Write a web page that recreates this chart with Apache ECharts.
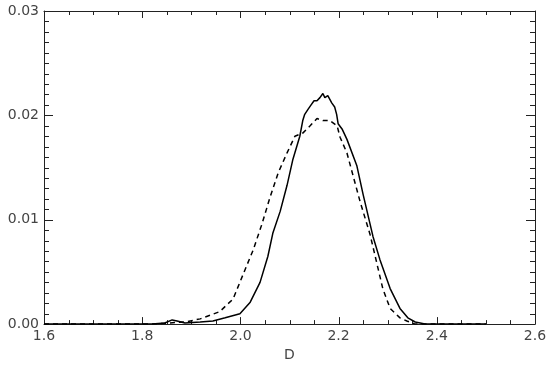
<!DOCTYPE html>
<html>
<head>
<meta charset="utf-8">
<script src="https://cdn.jsdelivr.net/npm/echarts@6/dist/echarts.min.js"></script>
<style>
    html, body { margin: 0; padding: 0; background: #ffffff; }
    #chart { width: 550px; height: 367px; }
</style>
</head>
<body>
<div id="chart"></div>
<script>
// solid curve: D values and probability
const solidD = [1.60, 1.82, 1.846, 1.861, 1.871, 1.887, 1.918, 1.944, 1.969, 1.999, 2.020, 2.040, 2.056, 2.066,
    2.081, 2.095, 2.107, 2.121, 2.127, 2.131, 2.138, 2.144, 2.150, 2.156, 2.162, 2.168, 2.172, 2.178, 2.186,
    2.192, 2.196, 2.199, 2.207, 2.217, 2.237, 2.250, 2.270, 2.284, 2.305, 2.325, 2.341, 2.356, 2.376, 2.50];
const solidP = [0, 0, 0.0001, 0.0004, 0.0003, 0.0001, 0.0002, 0.0003, 0.0006, 0.0010, 0.0021, 0.0040, 0.0065, 0.0087,
    0.0108, 0.0133, 0.0158, 0.0180, 0.0195, 0.0201, 0.0206, 0.0210, 0.0214, 0.0214, 0.0217, 0.0221, 0.0217, 0.0219, 0.0212,
    0.0208, 0.0201, 0.0192, 0.0187, 0.0177, 0.0152, 0.0124, 0.0084, 0.0062, 0.0034, 0.0015, 0.0006, 0.0002, 0, 0];

// dashed curve
const dashD = [1.60, 1.816, 1.887, 1.918, 1.958, 1.985, 2.005, 2.026, 2.044, 2.060, 2.077, 2.095, 2.111, 2.127,
    2.142, 2.156, 2.168, 2.182, 2.197, 2.203, 2.217, 2.229, 2.244, 2.264, 2.278, 2.290, 2.305, 2.325, 2.339, 2.356, 2.50];
const dashP = [0, 0, 0.0002, 0.0005, 0.0012, 0.0024, 0.0047, 0.0071, 0.0096, 0.0121, 0.0145, 0.0164, 0.0180, 0.0183,
    0.0190, 0.0197, 0.0195, 0.0195, 0.0190, 0.0179, 0.0164, 0.0143, 0.0117, 0.0086, 0.0058, 0.0034, 0.0015, 0.0006, 0.0003, 0, 0];

// tick positions of the box
const xMajorTicks = [1.6, 1.8, 2.0, 2.2, 2.4, 2.6];
const xMinorTicks = [1.65, 1.7, 1.75, 1.85, 1.9, 1.95, 2.05, 2.1, 2.15, 2.25, 2.3, 2.35, 2.45, 2.5, 2.55];
const yMajorTicks = [0, 0.01, 0.02, 0.03];
const yMinorTicks = [0.001, 0.002, 0.003, 0.004, 0.005, 0.006, 0.007, 0.008, 0.009,
    0.011, 0.012, 0.013, 0.014, 0.015, 0.016, 0.017, 0.018, 0.019,
    0.021, 0.022, 0.023, 0.024, 0.025, 0.026, 0.027, 0.028, 0.029];

const X_MIN = 1.6, X_MAX = 2.6, Y_MIN = 0, Y_MAX = 0.03;
const axisColor = "#222222";
const labelFont = { color: "#444444", fontSize: 14, fontFamily: "DejaVu Sans" };

function pairs(xs, ys) {
    return xs.map((x, i) => [x, ys[i]]);
}

function crisp(v) {
    return Math.round(v) + 0.5;
}

function tickLine(x1, y1, x2, y2) {
    return {
        type: "line",
        shape: { x1, y1, x2, y2 },
        style: { stroke: axisColor, lineWidth: 1 },
    };
}

// inward ticks on bottom and top edges
function xTickSeries(values, len) {
    return {
        type: "custom",
        silent: true,
        clip: false,
        data: values.map((v) => [v, Y_MIN]),
        renderItem(params, api) {
            const v = api.value(0);
            const bottom = api.coord([v, Y_MIN]);
            const top = api.coord([v, Y_MAX]);
            const x = crisp(bottom[0]);
            return {
                type: "group",
                children: [
                    tickLine(x, bottom[1], x, bottom[1] - len),
                    tickLine(x, top[1], x, top[1] + len),
                ],
            };
        },
    };
}

// inward ticks on left and right edges
function yTickSeries(values, len) {
    return {
        type: "custom",
        silent: true,
        clip: false,
        data: values.map((v) => [X_MIN, v]),
        renderItem(params, api) {
            const v = api.value(1);
            const left = api.coord([X_MIN, v]);
            const right = api.coord([X_MAX, v]);
            const y = crisp(left[1]);
            return {
                type: "group",
                children: [
                    tickLine(left[0], y, left[0] + len, y),
                    tickLine(right[0], y, right[0] - len, y),
                ],
            };
        },
    };
}

function boxLine(position, extra) {
    return Object.assign({
        type: "value",
        position: position,
        axisLine: { show: true, onZero: false, lineStyle: { color: axisColor, width: 1 } },
        axisTick: { show: false },
        minorTick: { show: false },
        splitLine: { show: false },
        minorSplitLine: { show: false },
    }, extra);
}

const chart = echarts.init(document.getElementById("chart"));

chart.setOption({
    animation: false,
    backgroundColor: "#ffffff",
    grid: { left: 44, right: 15, top: 11, bottom: 34 },
    xAxis: [
        boxLine("bottom", {
            min: X_MIN, max: X_MAX, interval: 0.2,
            name: "D", nameLocation: "middle", nameGap: 12,
            nameTextStyle: labelFont,
            axisLabel: Object.assign({ margin: 5, formatter: (v) => v.toFixed(1) }, labelFont),
        }),
        boxLine("top", { min: X_MIN, max: X_MAX, interval: 0.2, axisLabel: { show: false } }),
    ],
    yAxis: [
        boxLine("left", {
            min: Y_MIN, max: Y_MAX, interval: 0.01,
            axisLabel: Object.assign({ margin: 5, formatter: (v) => v.toFixed(2) }, labelFont),
        }),
        boxLine("right", { min: Y_MIN, max: Y_MAX, interval: 0.01, axisLabel: { show: false } }),
    ],
    series: [
        xTickSeries(xMajorTicks, 7),
        xTickSeries(xMinorTicks, 4),
        yTickSeries(yMajorTicks, 9),
        yTickSeries(yMinorTicks, 5),
        {
            name: "solid",
            type: "line",
            data: pairs(solidD, solidP),
            showSymbol: false,
            lineStyle: { color: "#000000", width: 1.5 },
        },
        {
            name: "dashed",
            type: "line",
            data: pairs(dashD, dashP),
            showSymbol: false,
            lineStyle: { color: "#000000", width: 1.5, type: [5, 4] },
        },
    ],
});
</script>
</body>
</html>
